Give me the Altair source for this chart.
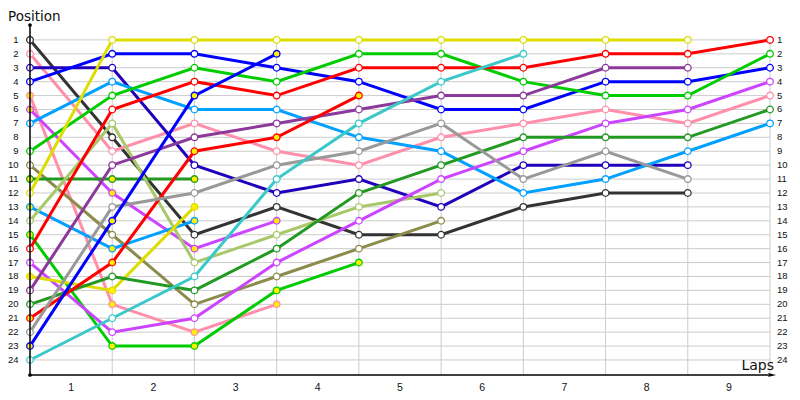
import altair as alt
import pandas as pd

# ---- data ----
lap_labels = ["1", "2", "3", "4", "5", "6", "7", "8", "9"]
grid_positions = list(range(1, 25))
grid_laps = [1, 2, 3, 4, 5, 6, 7, 8, 9]

# positions per lap (lap 0 = grid) for every driver
pos_darkgrey = [1, 8, 15, 13, 15, 15, 13, 12, 12]
pos_pink = [2, 9, 7, 9, 10, 8, 7, 6, 7, 5]
pos_navy = [3, 3, 10, 12, 11, 13, 10, 10, 10]
pos_blue = [4, 2, 2, 3, 4, 6, 6, 4, 4, 3]
pos_pink_b = [5, 20, 22, 20]
pos_magenta_b = [6, 12, 16, 14]
pos_lightblue = [7, 4, 6, 6, 8, 9, 12, 11, 9, 7]
pos_green = [9, 5, 3, 4, 2, 2, 4, 5, 5, 2]
pos_olive = [10, 15, 20, 18, 16, 14]
pos_darkgreen_b = [11, 11, 11]
pos_yellow = [12, 1, 1, 1, 1, 1, 1, 1, 1]
pos_lightblue_b = [13, 16, 14]
pos_lightgreen = [14, 7, 17, 15, 13, 12]
pos_green_b = [15, 23, 23, 19, 17]
pos_red = [16, 6, 4, 5, 3, 3, 3, 2, 2, 1]
pos_magenta = [17, 22, 21, 17, 14, 11, 9, 7, 6, 4]
pos_yellow_b = [18, 19, 13]
pos_purple = [19, 10, 8, 7, 6, 5, 5, 3, 3]
pos_darkgreen = [20, 18, 19, 16, 12, 10, 8, 8, 8, 6]
pos_red_b = [21, 17, 9, 8, 5]
pos_grey = [22, 13, 12, 10, 9, 7, 11, 9, 11]
pos_blue_b = [23, 14, 5, 2]
pos_cyan = [24, 21, 18, 11, 7, 4, 2]

driver_names = ["darkgrey", "pink", "navy", "blue", "pink_b", "magenta_b", "lightblue",
                "green", "olive", "darkgreen_b", "yellow", "lightblue_b", "lightgreen",
                "green_b", "red", "magenta", "yellow_b", "purple", "darkgreen", "red_b",
                "grey", "blue_b", "cyan"]
driver_positions = [pos_darkgrey, pos_pink, pos_navy, pos_blue, pos_pink_b, pos_magenta_b,
                    pos_lightblue, pos_green, pos_olive, pos_darkgreen_b, pos_yellow,
                    pos_lightblue_b, pos_lightgreen, pos_green_b, pos_red, pos_magenta,
                    pos_yellow_b, pos_purple, pos_darkgreen, pos_red_b, pos_grey, pos_blue_b,
                    pos_cyan]
driver_colors = ["#333333", "#FF8FAB", "#2200BB", "#0000FF", "#FF8FAB", "#CC44FF", "#00A0FF",
                 "#00CC00", "#8B8B4B", "#229922", "#DDDD00", "#00A0FF", "#A8C86A",
                 "#00CC00", "#FF0000", "#CC44FF", "#DDDD00", "#8B3A9B", "#229922", "#FF0000",
                 "#999999", "#0000FF", "#3CC8C8"]
driver_marker_fill = ["#FFFFFF", "#FFFFFF", "#FFFFFF", "#FFFFFF", "#FFF000", "#FFF000",
                      "#FFFFFF", "#FFFFFF", "#FFFFFF", "#FFF000", "#FFFFFF", "#FFF000",
                      "#FFFFFF", "#FFF000", "#FFFFFF", "#FFFFFF", "#FFF000", "#FFFFFF",
                      "#FFFFFF", "#FFF000", "#FFFFFF", "#FFF000", "#FFFFFF"]

rows = []
for k, (name, plist, col, fil) in enumerate(zip(driver_names, driver_positions,
                                                driver_colors, driver_marker_fill)):
    for lap, p in enumerate(plist):
        rows.append({"driver": name, "order": k, "lap": lap, "pos": p, "col": col, "fill": fil})
df = pd.DataFrame(rows)

df_pos = pd.DataFrame({"pos": grid_positions, "label": [str(p) for p in grid_positions]})
df_vlaps = pd.DataFrame({"lap": grid_laps})
df_xlab = pd.DataFrame({"label": lap_labels, "n": [int(s) for s in lap_labels]})

xs = alt.Scale(domain=[0, 9], nice=False, zero=False)
ys = alt.Scale(domain=[0, 25.08], reverse=True, nice=False, zero=False)
W, H = 740, 349
FONT = "DejaVu Sans"
TFONT = "Liberation Sans"
GRID = "#CCCCCC"

hgrid = alt.Chart(df_pos).mark_rule(color=GRID, strokeWidth=1).encode(
    y=alt.Y("pos:Q", scale=ys, axis=None),
    x=alt.value(0), x2=alt.value(W))

vgrid = alt.Chart(df_vlaps).mark_rule(color=GRID, strokeWidth=1).encode(
    x=alt.X("lap:Q", scale=xs, axis=None),
    y=alt.value(13.9), y2=alt.value(H))

lines = alt.Chart(df).mark_line(strokeWidth=3).encode(
    x=alt.X("lap:Q", scale=xs, axis=None),
    y=alt.Y("pos:Q", scale=ys, axis=None),
    detail="driver:N",
    stroke=alt.Stroke("col:N", scale=None),
    order="lap:Q")

points = alt.Chart(df).mark_point(shape="circle", filled=True, size=44, strokeWidth=1.3,
                                  opacity=1).encode(
    x=alt.X("lap:Q", scale=xs, axis=None),
    y=alt.Y("pos:Q", scale=ys, axis=None),
    fill=alt.Fill("fill:N", scale=None),
    stroke=alt.Stroke("col:N", scale=None))

one = pd.DataFrame({"a": [0]})
yaxis_line = alt.Chart(one).mark_rule(color="#000000", strokeWidth=1.5).encode(
    x=alt.value(0), y=alt.value(-1), y2=alt.value(H))
xaxis_line = alt.Chart(one).mark_rule(color="#000000", strokeWidth=1.5).encode(
    y=alt.value(H), x=alt.value(0), x2=alt.value(742))
arrow = alt.Chart(one).mark_point(shape="M -1 -0.45 L 1 0 L -1 0.45 L -0.5 0 Z", filled=True,
                                  color="#000000", size=70, opacity=1).encode(
    x=alt.value(742), y=alt.value(H))
dots = alt.Chart(pd.DataFrame({"yy": [-1, H]})).mark_circle(color="#000000", size=14,
                                                            opacity=1).encode(
    x=alt.value(0), y=alt.Y("yy:Q", scale=None))

left_labels = alt.Chart(df_pos).mark_text(font=TFONT, fontSize=9.5, align="right",
                                           baseline="middle", color="#111111").encode(
    y=alt.Y("pos:Q", scale=ys, axis=None), x=alt.value(-11.5), text="label:N")
right_labels = alt.Chart(df_pos).mark_text(font=TFONT, fontSize=9.5, align="left",
                                            baseline="middle", color="#111111").encode(
    y=alt.Y("pos:Q", scale=ys, axis=None), x=alt.value(747), text="label:N")
x_labels = alt.Chart(df_xlab).transform_calculate(mid="datum.n - 0.5").mark_text(
    font=TFONT, fontSize=10.5, align="center", baseline="alphabetic", color="#111111").encode(
    x=alt.X("mid:Q", scale=xs, axis=None), y=alt.value(365), text="label:N")

title_y = alt.Chart(pd.DataFrame({"t": ["Position"]})).mark_text(
    font=FONT, fontSize=13.5, align="left", baseline="alphabetic", color="#111111").encode(
    x=alt.value(-22), y=alt.value(-5), text="t:N")
title_x = alt.Chart(pd.DataFrame({"t": ["Laps"]})).mark_text(
    font=FONT, fontSize=14, align="right", baseline="alphabetic", color="#111111").encode(
    x=alt.value(744), y=alt.value(344), text="t:N")

chart = alt.layer(hgrid, vgrid, lines, points, yaxis_line, xaxis_line, arrow, dots,
                  left_labels, right_labels, x_labels, title_y, title_x).properties(
    width=W, height=H,
    padding={"left": 22, "top": 18, "right": 22, "bottom": 17},
    autosize=alt.AutoSizeParams(type="none"),
).configure_view(stroke=None)

chart.save("out.html", embed_options={"renderer": "svg", "actions": False})
